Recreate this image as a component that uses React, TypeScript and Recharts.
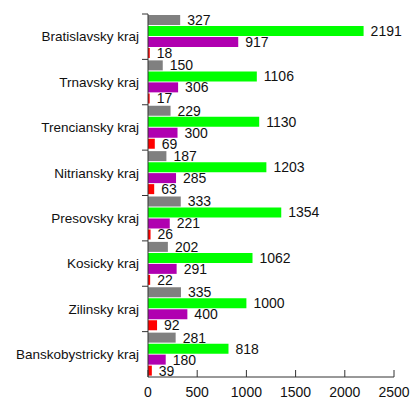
import { BarChart, Bar, XAxis, YAxis, LabelList } from "recharts";

const regions = [
  "Bratislavsky kraj",
  "Trnavsky kraj",
  "Trenciansky kraj",
  "Nitriansky kraj",
  "Presovsky kraj",
  "Kosicky kraj",
  "Zilinsky kraj",
  "Banskobystricky kraj",
];
const grayValues = [327, 150, 229, 187, 333, 202, 335, 281];
const greenValues = [2191, 1106, 1130, 1203, 1354, 1062, 1000, 818];
const purpleValues = [917, 306, 300, 285, 221, 291, 400, 180];
const redValues = [18, 17, 69, 63, 26, 22, 92, 39];
const xTicks = [0, 500, 1000, 1500, 2000, 2500];

const data = regions.map((name, i) => ({
  name,
  gray: grayValues[i],
  green: greenValues[i],
  purple: purpleValues[i],
  red: redValues[i],
}));

const W = 410;
const H = 403;
const M = { top: 14, right: 16, left: 0, bottom: 0 };
const Y_W = 148;
const X_H = 26;
const BAND = (H - M.top - M.bottom - X_H) / regions.length;

const FONT = "'Liberation Sans', Arial, sans-serif";

function YTick(props: any) {
  const { x, y, payload } = props;
  return (
    <g>
      <line x1={x - 6} x2={x} y1={y - BAND / 2} y2={y - BAND / 2} stroke="#333" />
      <text x={x - 9} y={y} dy="0.35em" textAnchor="end" fontSize={13.5} fill="#111" fontFamily={FONT}>
        {payload.value}
      </text>
    </g>
  );
}

function XTick(props: any) {
  const { x, y, payload } = props;
  return (
    <g>
      <line x1={x} x2={x} y1={y - 7} y2={y} stroke="#333" />
      <text x={x} y={y + 20} textAnchor="middle" fontSize={14} fill="#111" fontFamily={FONT}>
        {payload.value}
      </text>
    </g>
  );
}

const labelStyle = { fontSize: 14, fill: "#111", fontFamily: FONT };

export default function App() {
  return (
    <div style={{ position: "absolute", left: 0, top: 0, background: "#fff" }}>
      <BarChart
        width={W}
        height={H}
        data={data}
        layout="vertical"
        margin={M}
        barCategoryGap={1}
        barGap={1}
      >
        <XAxis
          type="number"
          domain={[0, 2500]}
          ticks={xTicks}
          height={X_H}
          tickSize={0}
          tickMargin={0}
          tick={<XTick />}
          axisLine={{ stroke: "#333" }}
          interval={0}
        />
        <YAxis
          type="category"
          dataKey="name"
          width={Y_W}
          tickSize={0}
          tickMargin={0}
          tick={<YTick />}
          axisLine={{ stroke: "#333" }}
          interval={0}
        />
        <Bar dataKey="gray" fill="#808080" isAnimationActive={false}>
          <LabelList dataKey="gray" position="right" offset={7} style={labelStyle} />
        </Bar>
        <Bar dataKey="green" fill="#00ff00" isAnimationActive={false}>
          <LabelList dataKey="green" position="right" offset={7} style={labelStyle} />
        </Bar>
        <Bar dataKey="purple" fill="#b000b0" isAnimationActive={false}>
          <LabelList dataKey="purple" position="right" offset={7} style={labelStyle} />
        </Bar>
        <Bar dataKey="red" fill="#ff0000" isAnimationActive={false}>
          <LabelList dataKey="red" position="right" offset={7} style={labelStyle} />
        </Bar>
      </BarChart>
    </div>
  );
}
